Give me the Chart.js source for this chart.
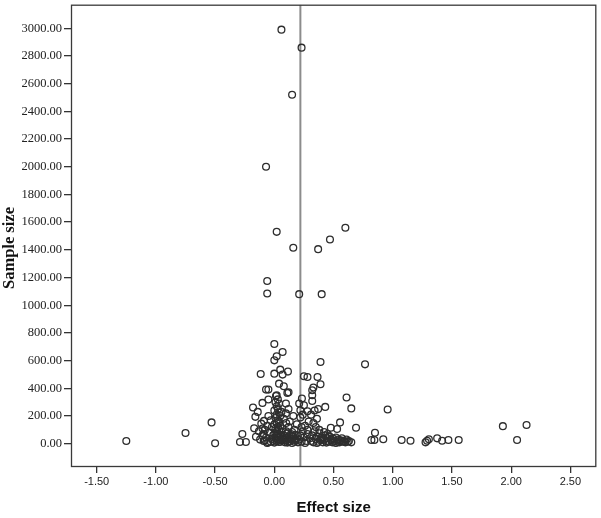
<!DOCTYPE html>
<html>
<head>
<meta charset="utf-8">
<script src="https://cdn.jsdelivr.net/npm/chart.js@4.4.1/dist/chart.umd.min.js"></script>
<style>
html,body{margin:0;padding:0;background:#fff;}
canvas{display:block;}
</style>
</head>
<body>
<canvas id="c" width="601" height="518"></canvas>
<script>
// Effect size (x) values
const effectSize = [
  0.06,0.23,0.15,-0.07,0.02,0.60,0.47,0.16,0.37,-0.06,-0.06,0.21,0.40,
  0.00,0.07,0.02,0.00,-0.115,0.00,0.05,0.07,0.115,0.04,0.08,-0.07,-0.05,0.11,0.12,0.014,-0.10,-0.05,-0.18,-0.14,-0.16,0.098,0.098,-0.087,-0.53,-0.75,-0.50,-1.25,-0.27,-0.29,-0.24,-0.17,-0.155,
  0.39,0.766,0.25,0.28,0.365,0.39,0.33,0.32,0.32,0.32,0.233,0.61,0.65,0.43,0.37,0.957,0.21,0.25,0.22,0.28,0.555,0.69,0.477,0.53,0.85,0.82,0.845,0.92,1.075,1.15,1.93,2.13,2.05,1.277,1.29,1.305,1.375,1.417,1.47,1.557,
  0.02,0.03,0.01,0.04,0.02,0.03,0.00,0.04,0.02,0.05,0.01,0.03,0.04,0.02,0.00,0.05,0.03,0.01,0.04,0.02,0.06,0.03,0.00,0.05,0.02,0.04,0.01,0.03,0.06,0.02,0.04,0.00,
  -0.12,-0.10,-0.09,-0.08,-0.07,-0.06,-0.05,-0.04,-0.03,-0.02,-0.01,-0.11,-0.13,-0.06,-0.03,-0.08,-0.10,-0.02,-0.05,-0.09,
  0.07,0.08,0.09,0.10,0.11,0.12,0.13,0.14,0.15,0.16,0.17,0.18,0.19,0.08,0.10,0.12,0.14,0.16,0.18,0.07,0.09,0.11,0.13,0.15,0.17,0.19,0.20,0.06,0.12,
  0.21,0.22,0.23,0.24,0.25,0.26,0.27,0.28,0.29,0.22,0.24,0.26,0.28,0.30,0.23,
  0.31,0.32,0.33,0.34,0.35,0.36,0.37,0.38,0.39,0.40,0.41,0.42,0.43,0.44,0.45,0.46,0.47,0.48,0.49,0.50,0.51,0.52,0.53,0.54,0.55,0.56,0.57,0.58,0.59,0.60,0.61,0.62,0.63,0.65,0.35,0.38,0.42,0.45,0.33,0.36,0.31,0.34,
  -0.01,0.05,0.09,0.13,0.17,0.07,0.11,0.15,0.03,0.36,0.40,0.44,0.48,0.52,0.56,0.39,0.46
];
// Sample size (y) values
const sampleSize = [
  2990,2860,2520,2000,1530,1560,1475,1415,1405,1175,1085,1080,1080,
  720,662,631,602,504,506,535,499,521,434,415,391,391,367,372,345,295,319,262,230,194,291,219,165,154,77,3,20,70,12,12,111,50,
  590,573,487,482,482,430,406,386,350,309,327,334,255,266,250,247,291,278,242,235,154,115,115,106,79,27,27,32,27,22,127,135,27,10,22,32,39,22,27,27,
  350,320,300,290,270,250,240,225,210,200,185,170,160,150,140,130,120,110,100,90,85,75,70,60,55,45,40,30,25,20,12,8,
  30,60,20,100,45,130,10,80,170,35,60,145,90,5,15,25,110,120,200,70,
  30,60,10,90,40,120,20,70,5,50,100,25,140,180,150,15,35,200,65,110,45,75,160,85,15,40,10,230,250,
  30,60,15,90,45,130,20,70,160,190,210,5,100,40,120,
  20,60,10,90,35,50,15,75,25,45,10,30,60,20,40,15,50,25,10,35,20,45,15,30,10,25,40,15,20,10,30,15,20,10,120,100,85,70,150,180,210,240,
  20,15,25,35,28,50,8,55,65,5,28,8,30,5,22,40,55
];
const meanEffect = 0.22;
const yTicks = [0,200,400,600,800,1000,1200,1400,1600,1800,2000,2200,2400,2600,2800,3000];
const xTicks = [-1.5,-1.0,-0.5,0.0,0.5,1.0,1.5,2.0,2.5];
const xMin = -1.717, xMax = 2.719, yMin = -168, yMax = 3170;

const points = effectSize.map((x,i)=>({x:x, y:sampleSize[i]}));

const framePlugin = {
  id:'frame',
  afterDraw(chart){
    const {ctx, chartArea:a} = chart;
    ctx.save();
    ctx.strokeStyle = '#3a3a3a';
    ctx.lineWidth = 1.3;
    ctx.strokeRect(a.left+0.5, a.top+0.5, a.right-a.left-1, a.bottom-a.top-1);
    // axis titles
    ctx.fillStyle = '#111';
    ctx.textAlign = 'center';
    ctx.textBaseline = 'middle';
    ctx.font = 'bold 15px "Liberation Sans", Arial, sans-serif';
    ctx.fillText('Effect size', (a.left+a.right)/2, 508);
    ctx.translate(10, 248);
    ctx.rotate(-Math.PI/2);
    ctx.font = 'bold 16.5px "Liberation Serif", "Times New Roman", serif';
    ctx.fillText('Sample size', 0, 0);
    ctx.restore();
  }
};

new Chart(document.getElementById('c'), {
  type:'scatter',
  data:{
    datasets:[
      {
        type:'line',
        data:[{x:meanEffect,y:yMin},{x:meanEffect,y:yMax}],
        borderColor:'#8c8c8c',
        borderWidth:2,
        pointRadius:0,
        fill:false,
        order:2
      },
      {
        data:points,
        pointRadius:3.4,
        pointHoverRadius:3.4,
        pointBorderWidth:1.3,
        pointBorderColor:'#2e2e2e',
        pointBackgroundColor:'rgba(0,0,0,0)',
        showLine:false,
        order:1
      }
    ]
  },
  plugins:[framePlugin],
  options:{
    responsive:false,
    animation:false,
    devicePixelRatio:1,
    layout:{padding:{top:1,right:2,left:0,bottom:0}},
    plugins:{legend:{display:false},tooltip:{enabled:false}},
    scales:{
      x:{
        type:'linear',
        min:xMin,max:xMax,
        afterBuildTicks(s){ s.ticks = xTicks.map(v=>({value:v})); },
        afterFit(s){ s.height = 51; s.paddingLeft = 0; s.paddingRight = 0; },
        grid:{drawOnChartArea:false,drawTicks:true,tickLength:6,color:'#333',lineWidth:1.3},
        border:{display:false},
        ticks:{
          padding:2,
          color:'#222',
          font:{family:'"Liberation Sans", Arial, sans-serif',size:11},
          maxRotation:0,
          autoSkip:false,
          callback:(v)=>Number(v).toFixed(2)
        }
      },
      y:{
        type:'linear',
        min:yMin,max:yMax,
        afterBuildTicks(s){ s.ticks = yTicks.map(v=>({value:v})); },
        afterFit(s){ s.width = 71; s.paddingTop = 0; s.paddingBottom = 0; },
        grid:{drawOnChartArea:false,drawTicks:true,tickLength:7,color:'#333',lineWidth:1.3},
        border:{display:false},
        ticks:{
          padding:2,
          color:'#222',
          font:{family:'"Liberation Serif", "Times New Roman", serif',size:12.5},
          autoSkip:false,
          callback:(v)=>Number(v).toFixed(2)
        }
      }
    }
  }
});
</script>
</body>
</html>
